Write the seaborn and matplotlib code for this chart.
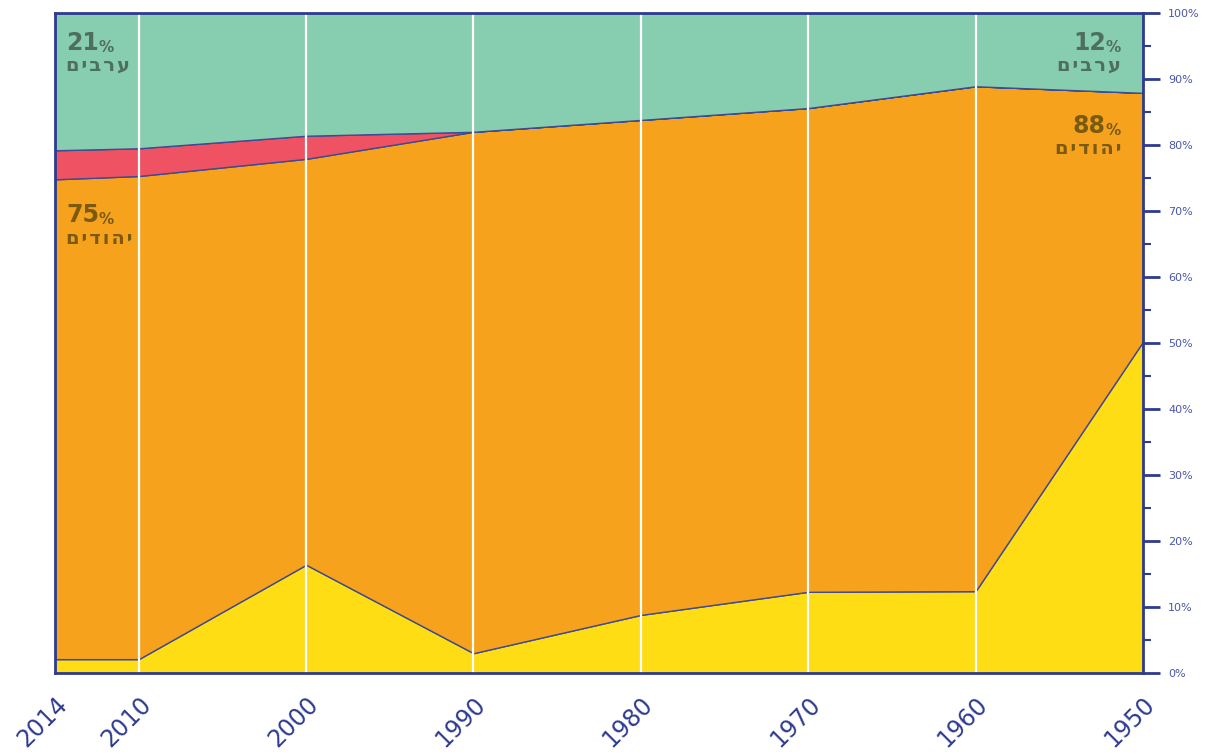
import numpy as np
import matplotlib
matplotlib.use("Agg")
import matplotlib.pyplot as plt
import seaborn as sns
from matplotlib.ticker import MultipleLocator, FuncFormatter

# years shown left to right (newest first); 2014 sits half a decade from 2010
years = ["2014", "2010", "2000", "1990", "1980", "1970", "1960", "1950"]
year_pos = [0, 0.5, 1.5, 2.5, 3.5, 4.5, 5.5, 6.5]

# shares in percent, bottom to top
yellow = [2.1, 2.1, 16.4, 3.0, 8.8, 12.3, 12.4, 50.2]
orange = [72.7, 73.2, 61.5, 79.0, 75.0, 73.3, 76.5, 37.7]
red = [4.4, 4.2, 3.5, 0.0, 0.0, 0.0, 0.0, 0.0]
green = [20.8, 20.5, 18.6, 18.0, 16.2, 14.4, 11.1, 12.1]

NAVY = "#2f3b8f"
colors = ["#fedd14", "#f7a21c", "#ef5263", "#87cdb0"]

sns.set_theme(style="white")
plt.rcParams["font.family"] = ["DejaVu Sans"]

fig = plt.figure(figsize=(12.18, 7.56), dpi=100)
ax = fig.add_axes([0.0452, 0.1098, 0.8932, 0.8730])

ax.stackplot(year_pos, yellow, orange, red, green, colors=colors,
             edgecolor="#3d4a96", linewidth=1.0)

for p in year_pos[1:-1]:
    ax.axvline(p, color="white", lw=1.6, zorder=5)

ax.set_xlim(year_pos[0], year_pos[-1])
ax.set_ylim(0, 100)

# axes frame
for s in ax.spines.values():
    s.set_color(NAVY)
    s.set_linewidth(2)
    s.set_zorder(6)

ax.yaxis.tick_right()
ax.yaxis.set_major_locator(MultipleLocator(10))
ax.yaxis.set_minor_locator(MultipleLocator(5))
ax.yaxis.set_major_formatter(FuncFormatter(lambda v, _: f"{int(v)}%"))
ax.tick_params(axis="y", which="major", length=12, width=2, color=NAVY,
               labelcolor="#4a55a8", labelsize=8, pad=6, direction="out")
ax.tick_params(axis="y", which="minor", length=6, width=1.5, color=NAVY,
               direction="out")

ax.set_xticks(year_pos)
ax.set_xticklabels(years, rotation=45, ha="right", rotation_mode="anchor",
                   fontsize=17, color=NAVY)
ax.tick_params(axis="x", length=0, pad=14)

# labels inside the areas
arab_col = "#4e6e5e"
jew_col = "#7a5a0f"


def pct_label(x, y, num, color, right=False):
    if right:
        t = ax.text(x, y, "%", transform=ax.transAxes, ha="right", va="bottom",
                    fontsize=11, fontweight="bold", color=color, zorder=7)
        ax.annotate(num, xy=(0, 0), xycoords=t, ha="right", va="bottom",
                    fontsize=17, fontweight="bold", color=color, zorder=7)
    else:
        t = ax.text(x, y, num, transform=ax.transAxes, ha="left", va="bottom",
                    fontsize=17, fontweight="bold", color=color, zorder=7)
        ax.annotate("%", xy=(1, 0), xycoords=t, ha="left", va="bottom",
                    fontsize=11, fontweight="bold", color=color, zorder=7)


# Hebrew is written reversed since matplotlib has no bidi layout,
# with hair spaces to open up the letters a little
arabs = "\u200a".join("ערבים"[::-1])
jews = "\u200a".join("יהודים"[::-1])

pct_label(0.010, 0.937, "21", arab_col)
ax.text(0.010, 0.912, arabs, transform=ax.transAxes, ha="left", va="baseline",
        fontsize=14, fontweight="bold", color=arab_col, zorder=7)
pct_label(0.010, 0.675, "75", jew_col)
ax.text(0.010, 0.650, jews, transform=ax.transAxes, ha="left", va="baseline",
        fontsize=14, fontweight="bold", color=jew_col, zorder=7)

pct_label(0.980, 0.937, "12", arab_col, right=True)
ax.text(0.980, 0.912, arabs, transform=ax.transAxes, ha="right", va="baseline",
        fontsize=14, fontweight="bold", color=arab_col, zorder=7)
pct_label(0.980, 0.811, "88", jew_col, right=True)
ax.text(0.980, 0.786, jews, transform=ax.transAxes, ha="right", va="baseline",
        fontsize=14, fontweight="bold", color=jew_col, zorder=7)

fig.savefig("out.png", dpi=100, facecolor="white")
